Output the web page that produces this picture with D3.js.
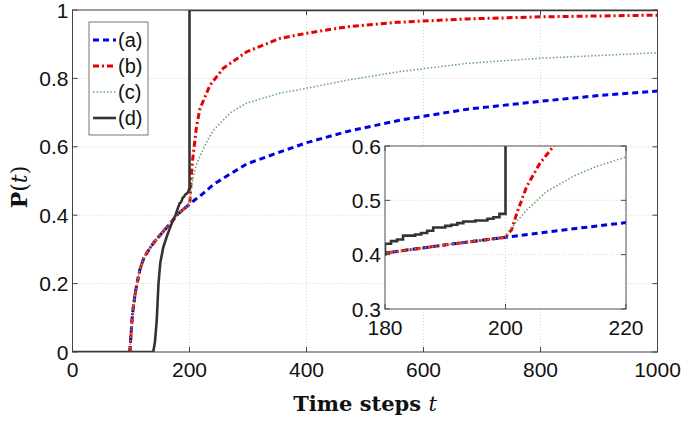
<!DOCTYPE html>
<html>
<head>
<meta charset="utf-8">
<script src="https://cdn.jsdelivr.net/npm/d3@7"></script>
<style>
  body { margin: 0; background: #fff; }
</style>
</head>
<body>
<div id="chart"></div>
<script>
// values: [t, P(t)]
const seriesNames = ["(a)", "(b)", "(c)", "(d)"];
const xTicks = [0, 200, 400, 600, 800, 1000];
const yTicks = [0, 0.2, 0.4, 0.6, 0.8, 1];
const insetXTicks = [180, 200, 220];
const insetYTicks = [0.3, 0.4, 0.5, 0.6];

// shared start of (a), (b), (c) before t = 200
const commonStart = [[98, 0], [100, 0.05], [102, 0.1], [104, 0.132], [108, 0.18], [115, 0.24],
  [122, 0.275], [132, 0.303], [140, 0.322], [150, 0.342], [160, 0.362], [172, 0.386],
  [180, 0.403], [190, 0.418], [200, 0.432]];
const seriesA = commonStart.concat([[210, 0.446], [220, 0.459], [241, 0.49], [269, 0.52],
  [298, 0.55], [355, 0.585], [400, 0.612], [470, 0.645], [560, 0.678], [675, 0.71],
  [800, 0.733], [900, 0.75], [1000, 0.763]]);
const seriesB = commonStart.concat([[201, 0.446], [202, 0.48], [203.5, 0.525], [205.7, 0.568],
  [208, 0.6], [212, 0.66], [218, 0.712], [235, 0.78], [258, 0.83], [298, 0.878],
  [355, 0.917], [400, 0.932], [470, 0.951], [555, 0.964], [675, 0.974], [800, 0.98],
  [1000, 0.985]]);
const seriesC = commonStart.concat([[200.7, 0.446], [203.5, 0.482], [206.8, 0.516],
  [211.2, 0.544], [215, 0.562], [220, 0.58], [230, 0.617], [241, 0.648], [270, 0.7],
  [298, 0.728], [355, 0.757], [400, 0.771], [470, 0.795], [560, 0.82], [675, 0.844],
  [800, 0.859], [1000, 0.875]]);
const seriesD = [[0, 0], [138, 0], [141, 0.03], [144, 0.094], [147, 0.2], [150, 0.26],
  [155, 0.305], [161, 0.337], [166, 0.36], [172, 0.386], [176, 0.4], [180, 0.42],
  [181, 0.425], [182, 0.428], [183, 0.435], [185, 0.437], [186, 0.44], [187, 0.444],
  [188, 0.45], [190, 0.453], [191, 0.455], [192, 0.458], [193, 0.461], [195, 0.463],
  [197, 0.466], [198, 0.469], [199, 0.475], [200, 0.475], [200, 1], [1000, 1]];

const series = [seriesA, seriesB, seriesC, seriesD];
const styles = [
  { color: "#0000e6", width: 3, dash: "6,4" },
  { color: "#e60000", width: 3, dash: "6,3,2,3" },
  { color: "#6aa86a", width: 1.6, dash: "1.5,2" },
  { color: "#333333", width: 2.6, dash: null }
];

const sans = "'Liberation Sans', Arial, sans-serif";
const serif = "'DejaVu Serif', serif";

const W = 685, H = 431;
const svg = d3.select("#chart").append("svg")
  .attr("width", W).attr("height", H);
svg.append("rect").attr("width", W).attr("height", H).attr("fill", "#fff");

// main axes
const x = d3.scaleLinear().domain([0, 1000]).range([72.5, 657.5]);
const y = d3.scaleLinear().domain([0, 1]).range([352, 10]);

function drawAxes(g, xs, ys, xt, yt, yFmt, clipId, xLabelDy) {
  const [x0, x1] = xs.range();
  const [y0, y1] = ys.range();
  // grid
  g.selectAll(null).data(xt).enter().append("line")
    .attr("x1", d => xs(d)).attr("x2", d => xs(d)).attr("y1", y0).attr("y2", y1)
    .attr("stroke", "#c8c8c8").attr("stroke-width", 0.8).attr("stroke-dasharray", "1,2");
  g.selectAll(null).data(yt).enter().append("line")
    .attr("x1", x0).attr("x2", x1).attr("y1", d => ys(d)).attr("y2", d => ys(d))
    .attr("stroke", "#c8c8c8").attr("stroke-width", 0.8).attr("stroke-dasharray", "1,2");
  // inward ticks on all sides
  const tl = 5;
  xt.forEach(d => {
    g.append("line").attr("x1", xs(d)).attr("x2", xs(d)).attr("y1", y0).attr("y2", y0 - tl)
      .attr("stroke", "#444");
    g.append("line").attr("x1", xs(d)).attr("x2", xs(d)).attr("y1", y1).attr("y2", y1 + tl)
      .attr("stroke", "#444");
  });
  yt.forEach(d => {
    g.append("line").attr("x1", x0).attr("x2", x0 + tl).attr("y1", ys(d)).attr("y2", ys(d))
      .attr("stroke", "#444");
    g.append("line").attr("x1", x1).attr("x2", x1 - tl).attr("y1", ys(d)).attr("y2", ys(d))
      .attr("stroke", "#444");
  });
  // tick labels
  g.selectAll(null).data(xt).enter().append("text")
    .attr("x", d => xs(d)).attr("y", y0 + xLabelDy)
    .attr("text-anchor", "middle").style("font-family", sans).style("font-size", "21px")
    .attr("fill", "#111")
    .text(d => d);
  g.selectAll(null).data(yt).enter().append("text")
    .attr("x", x0 - 4).attr("y", d => ys(d) + 7.5)
    .attr("text-anchor", "end").style("font-family", sans).style("font-size", "21px")
    .attr("fill", "#111")
    .text(yFmt);
  svg.append("clipPath").attr("id", clipId).append("rect")
    .attr("x", x0).attr("y", y1).attr("width", x1 - x0).attr("height", y0 - y1);
}

const main = svg.append("g");
drawAxes(main, x, y, xTicks, yTicks, d => d === 0 || d === 1 ? d : d3.format(".1f")(d), "clipMain", 25);

const mainLines = main.append("g").attr("clip-path", "url(#clipMain)");
series.forEach((s, i) => {
  mainLines.append("path").datum(s)
    .attr("fill", "none")
    .attr("stroke", styles[i].color)
    .attr("stroke-width", styles[i].width)
    .attr("stroke-dasharray", styles[i].dash)
    .attr("d", d3.line().x(d => x(d[0])).y(d => y(d[1])));
});

main.append("rect")
  .attr("x", 72.5).attr("y", 10).attr("width", 585).attr("height", 342)
  .attr("fill", "none").attr("stroke", "#444").attr("stroke-width", 1);

// legend
const lg = svg.append("g");
lg.append("rect").attr("x", 89).attr("y", 22).attr("width", 59).attr("height", 113)
  .attr("fill", "#fff").attr("stroke", "#555").attr("stroke-width", 0.8);
seriesNames.forEach((name, i) => {
  const ly = 40 + i * 26;
  lg.append("line").attr("x1", 93).attr("x2", 116).attr("y1", ly).attr("y2", ly)
    .attr("stroke", styles[i].color)
    .attr("stroke-width", styles[i].width)
    .attr("stroke-dasharray", styles[i].dash);
  lg.append("text").attr("x", 118).attr("y", ly + 7)
    .style("font-family", sans).style("font-size", "20px")
    .attr("fill", "#111").text(name);
});

// inset
const ix = d3.scaleLinear().domain([180, 220]).range([385, 626]);
const iy = d3.scaleLinear().domain([0.3, 0.6]).range([309, 146]);
const inset = svg.append("g");
inset.append("rect").attr("x", 385).attr("y", 146).attr("width", 241).attr("height", 163)
  .attr("fill", "#fff");
drawAxes(inset, ix, iy, insetXTicks, insetYTicks, d3.format(".1f"), "clipInset", 26);
const insetLines = inset.append("g").attr("clip-path", "url(#clipInset)");
series.forEach((s, i) => {
  insetLines.append("path").datum(s)
    .attr("fill", "none")
    .attr("stroke", styles[i].color)
    .attr("stroke-width", styles[i].width)
    .attr("stroke-dasharray", styles[i].dash)
    .attr("d", d3.line().x(d => ix(d[0])).y(d => iy(d[1]))
      .curve(i === 3 ? d3.curveStepAfter : d3.curveLinear));
});
inset.append("rect").attr("x", 385).attr("y", 146).attr("width", 241).attr("height", 163)
  .attr("fill", "none").attr("stroke", "#555").attr("stroke-width", 1);

// axis titles
const xl = svg.append("text").attr("x", 365).attr("y", 411).attr("text-anchor", "middle")
  .style("font-family", serif).style("font-size", "21px").style("font-weight", "bold")
  .attr("fill", "#111");
xl.append("tspan").text("Time steps ");
xl.append("tspan").style("font-style", "italic").style("font-weight", "normal").text("t");

const yl = svg.append("text").attr("transform", "translate(27,187) rotate(-90)")
  .attr("text-anchor", "middle")
  .style("font-family", serif).style("font-size", "22px").attr("fill", "#111");
yl.append("tspan").style("font-weight", "bold").text("P");
yl.append("tspan").text("(");
yl.append("tspan").style("font-style", "italic").text("t");
yl.append("tspan").text(")");
</script>
</body>
</html>
